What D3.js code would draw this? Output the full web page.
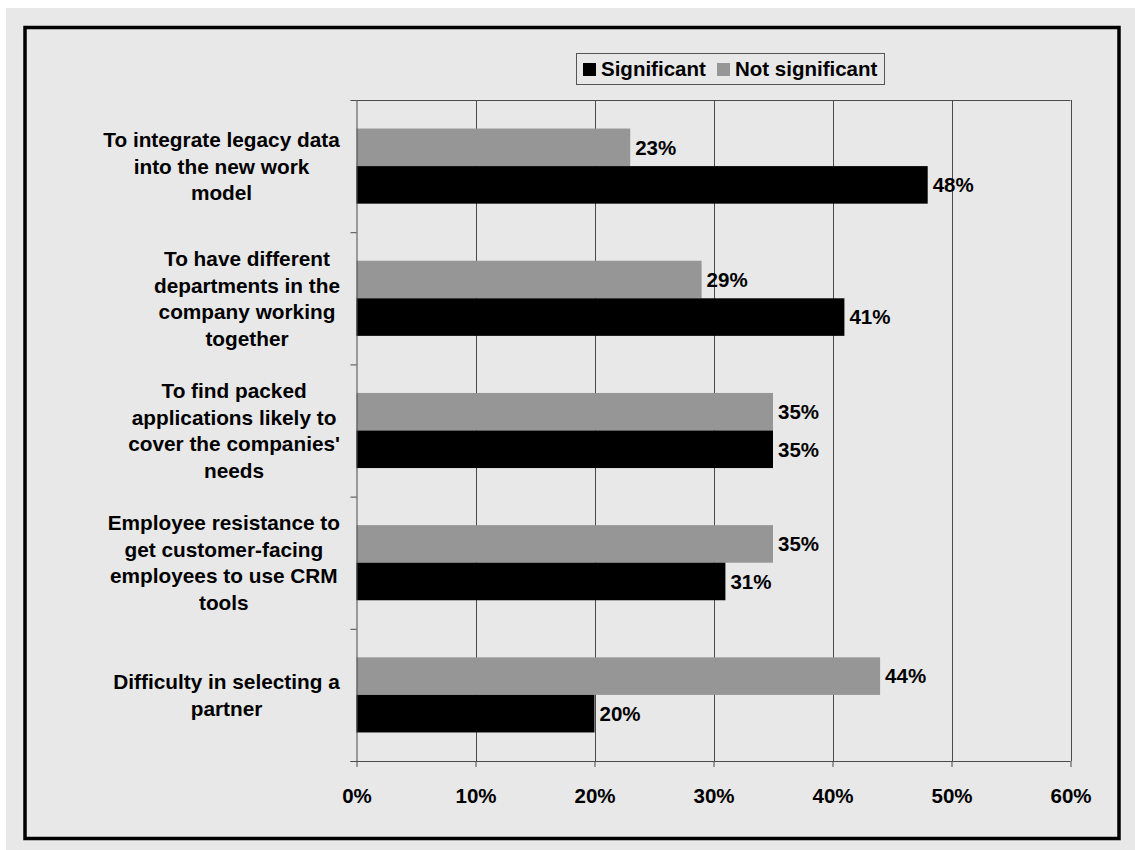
<!DOCTYPE html>
<html>
<head>
<meta charset="utf-8">
<script src="https://cdn.jsdelivr.net/npm/d3@7"></script>
<style>
  html, body { margin: 0; padding: 0; background: #ffffff; }
  svg { display: block; }
  text { font-family: "Liberation Sans", Arial, sans-serif; font-weight: bold; fill: #000; }
</style>
</head>
<body>
<svg id="chart" width="1135" height="850"></svg>
<script>
// ---- data ----
const categories = [
  ["To integrate legacy data", "into the new work", "model"],
  ["To have different", "departments in the", "company working", "together"],
  ["To find packed", "applications likely to", "cover the companies'", "needs"],
  ["Employee resistance to", "get customer-facing", "employees to use CRM", "tools"],
  ["Difficulty in selecting a", "partner"]
];
const seriesNames = ["Not significant", "Significant"];
const notSignificant = [23, 29, 35, 35, 44];
const significant = [48, 41, 35, 31, 20];
const xTicks = [0, 10, 20, 30, 40, 50, 60];

// ---- layout ----
const svg = d3.select("#chart");
const W = 1135, H = 850;
const plot = { left: 356.5, right: 1070.5, top: 100, bottom: 761 };
const fontSize = 20.5;
const catFontSize = 20.8;

svg.append("rect").attr("x", 6).attr("y", 8).attr("width", W - 6).attr("height", H - 8).attr("fill", "#e8e8e8");
svg.append("rect").attr("x", 25).attr("y", 27.5).attr("width", 1094).attr("height", 811)
  .attr("fill", "none").attr("stroke", "#000").attr("stroke-width", 3.5);

const x = d3.scaleLinear().domain([0, 60]).range([plot.left, plot.right]);
const y0 = d3.scaleBand().domain(d3.range(categories.length)).range([plot.top, plot.bottom]).paddingInner(0).paddingOuter(0);
const y1 = d3.scaleBand().domain(seriesNames).range([0, y0.bandwidth()]).paddingInner(0).paddingOuter(0.76);

const colors = { "Significant": "#000000", "Not significant": "#969696" };

// gridlines
svg.append("g").selectAll("line").data(xTicks.slice(1)).join("line")
  .attr("x1", d => Math.round(x(d)) + 0.5).attr("x2", d => Math.round(x(d)) + 0.5)
  .attr("y1", plot.top).attr("y2", plot.bottom)
  .attr("stroke", "#4a4a4a").attr("stroke-width", 1);
// top line
svg.append("line").attr("x1", plot.left).attr("x2", plot.right).attr("y1", plot.top + 0.5).attr("y2", plot.top + 0.5)
  .attr("stroke", "#4a4a4a").attr("stroke-width", 1);

// bars
const rows = categories.map((c, i) => ({ i, values: [
  { name: "Not significant", v: notSignificant[i] },
  { name: "Significant", v: significant[i] }
]}));
const groups = svg.append("g").selectAll("g").data(rows).join("g")
  .attr("transform", d => `translate(0,${y0(d.i)})`);
groups.selectAll("rect").data(d => d.values).join("rect")
  .attr("x", x(0)).attr("y", d => y1(d.name))
  .attr("width", d => x(d.v) - x(0)).attr("height", y1.bandwidth())
  .attr("fill", d => colors[d.name]);
groups.selectAll("text").data(d => d.values).join("text")
  .attr("x", d => x(d.v) + 5).attr("y", d => y1(d.name) + y1.bandwidth() / 2)
  .attr("dy", "0.36em").attr("font-size", fontSize)
  .text(d => d.v + "%");

// x axis
const xAxis = d3.axisBottom(x).tickValues(xTicks).tickFormat(d => d + "%").tickSizeInner(6).tickSizeOuter(0);
const gx = svg.append("g").attr("transform", `translate(0,${plot.bottom})`).call(xAxis);
gx.select(".domain").attr("stroke", "#4a4a4a").attr("d", `M${plot.left - 6},0.5H${plot.right}`);
gx.selectAll(".tick line").attr("stroke", "#4a4a4a");
gx.selectAll(".tick text").attr("font-size", fontSize).attr("font-family", null).attr("y", 27).attr("dy", "0.71em");

// y axis (left line + ticks at category boundaries)
const yAxis = d3.axisLeft(d3.scaleLinear().domain([0, categories.length]).range([plot.bottom, plot.top]))
  .tickValues(d3.range(categories.length + 1)).tickFormat("").tickSizeInner(6).tickSizeOuter(0);
const gy = svg.append("g").attr("transform", `translate(${plot.left},0)`).call(yAxis);
gy.select(".domain").attr("stroke", "#4a4a4a");
gy.selectAll(".tick line").attr("stroke", "#4a4a4a");

// category labels (block right edge at 340, lines centered in block)
const lineH = 26.5;
const labelG = svg.append("g");
categories.forEach((lines, i) => {
  const cy = y0(i) + y0.bandwidth() / 2;
  const t = labelG.append("text").attr("font-size", catFontSize).attr("text-anchor", "middle");
  const n = lines.length;
  lines.forEach((ln, k) => {
    t.append("tspan").attr("x", 0).attr("y", cy + (k - (n - 1) / 2) * lineH).attr("dy", "0.36em").text(ln);
  });
  const w = t.node().getBBox().width;
  t.selectAll("tspan").attr("x", 340 - w / 2);
});

// legend
const lg = svg.append("g");
lg.append("rect").attr("x", 576.5).attr("y", 53.5).attr("width", 308).attr("height", 31)
  .attr("fill", "#e8e8e8").attr("stroke", "#555").attr("stroke-width", 1);
const legendItems = [
  { name: "Significant", sx: 583, tx: 601 },
  { name: "Not significant", sx: 717, tx: 735 }
];
legendItems.forEach(it => {
  lg.append("rect").attr("x", it.sx).attr("y", 63).attr("width", 13).attr("height", 13).attr("fill", colors[it.name]);
  lg.append("text").attr("x", it.tx).attr("y", 76).attr("font-size", fontSize).text(it.name);
});
</script>
</body>
</html>
